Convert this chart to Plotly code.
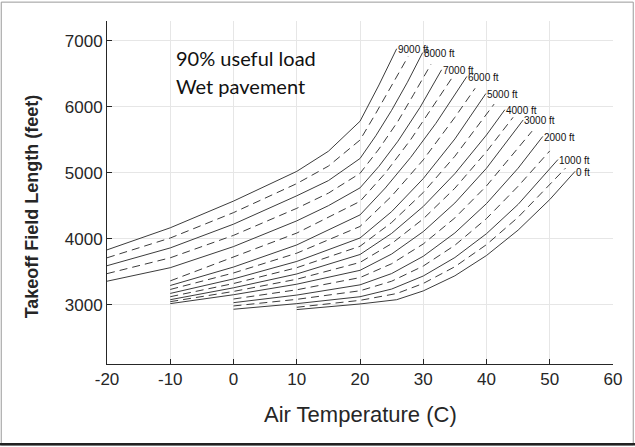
import plotly.graph_objects as go

# Takeoff field length vs. air temperature, one curve per pressure altitude.
# Solid curves every 1000 ft, dashed curves at the 500 ft steps in between.
alt_9000_t = [-20, -10, 0, 10, 15, 20, 23, 25.8]
alt_9000_ft = [3830, 4165, 4570, 5020, 5325, 5780, 6330, 6880]
alt_8500_t = [-20, -10, 0, 10, 15, 20, 22.5, 25, 27.6]
alt_8500_ft = [3710, 4010, 4395, 4835, 5100, 5495, 5900, 6330, 6760]
alt_8000_t = [-20, -10, 0, 10, 15, 20, 22.5, 25, 27.5, 29.9]
alt_8000_ft = [3590, 3860, 4220, 4650, 4880, 5215, 5560, 5946, 6372, 6820]
alt_7500_t = [-20, -10, 0, 10, 15, 20, 23, 26, 28.5, 31.2]
alt_7500_ft = [3470, 3710, 4050, 4460, 4690, 4990, 5360, 5780, 6190, 6640]
alt_7000_t = [-20, -10, 0, 10, 15, 20, 23, 26, 29.5, 32.9]
alt_7000_ft = [3355, 3560, 3880, 4270, 4500, 4770, 5097, 5478, 5991, 6560]
alt_6500_t = [-10, 0, 10, 20, 24, 28, 32, 34.7]
alt_6500_ft = [3360, 3725, 4085, 4565, 4994, 5500, 6075, 6460]
alt_6000_t = [-10, 0, 10, 20, 24, 28, 32, 36.9]
alt_6000_ft = [3290, 3570, 3905, 4360, 4768, 5231, 5749, 6460]
alt_5500_t = [-10, 0, 10, 20, 25, 30, 35, 38.2]
alt_5500_ft = [3230, 3480, 3780, 4185, 4645, 5195, 5840, 6280]
alt_5000_t = [-10, 0, 10, 20, 25, 30, 35, 39.9]
alt_5000_ft = [3170, 3390, 3655, 4010, 4410, 4911, 5512, 6200]
alt_4500_t = [-10, 0, 10, 20, 25, 30, 35, 40, 41.2]
alt_4500_ft = [3120, 3320, 3560, 3885, 4245, 4700, 5250, 5890, 6040]
alt_4000_t = [-10, 0, 10, 20, 25, 30, 35, 40, 42.9]
alt_4000_ft = [3075, 3255, 3465, 3760, 4080, 4488, 4986, 5572, 5955]
alt_3500_t = [-10, 0, 10, 20, 25, 30, 35, 40, 44.2]
alt_3500_ft = [3045, 3200, 3385, 3640, 3925, 4300, 4765, 5320, 5840]
alt_3000_t = [-10, 0, 10, 20, 25, 30, 35, 40, 45.8]
alt_3000_ft = [3015, 3150, 3310, 3520, 3767, 4107, 4541, 5068, 5800]
alt_2500_t = [0, 10, 20, 25, 30, 35, 40, 45, 47.2]
alt_2500_ft = [3085, 3225, 3410, 3620, 3920, 4315, 4800, 5375, 5630]
alt_2000_t = [0, 10, 20, 25, 30, 35, 40, 45, 48.9]
alt_2000_ft = [3030, 3145, 3300, 3471, 3733, 4087, 4532, 5069, 5550]
alt_1500_t = [0, 10, 20, 25, 30, 35, 40, 45, 50.0]
alt_1500_ft = [2980, 3080, 3210, 3355, 3585, 3900, 4305, 4795, 5330]
alt_1000_t = [0, 10, 20, 25, 30, 35, 40, 45, 51.3]
alt_1000_ft = [2930, 3015, 3120, 3236, 3434, 3714, 4076, 4520, 5200]
alt_500_t = [10, 20, 25.8, 30, 35, 40, 45, 50, 52.5]
alt_500_ft = [2960, 3065, 3168, 3321, 3575, 3910, 4325, 4827, 5070]
alt_0_t = [10, 20, 25.8, 30, 35, 40, 45, 50, 54]
alt_0_ft = [2925, 3010, 3075, 3208, 3437, 3745, 4130, 4593, 5020]

altitudes = [9000, 8500, 8000, 7500, 7000, 6500, 6000, 5500, 5000, 4500,
             4000, 3500, 3000, 2500, 2000, 1500, 1000, 500, 0]
curves = {
    9000: (alt_9000_t, alt_9000_ft), 8500: (alt_8500_t, alt_8500_ft),
    8000: (alt_8000_t, alt_8000_ft), 7500: (alt_7500_t, alt_7500_ft),
    7000: (alt_7000_t, alt_7000_ft), 6500: (alt_6500_t, alt_6500_ft),
    6000: (alt_6000_t, alt_6000_ft), 5500: (alt_5500_t, alt_5500_ft),
    5000: (alt_5000_t, alt_5000_ft), 4500: (alt_4500_t, alt_4500_ft),
    4000: (alt_4000_t, alt_4000_ft), 3500: (alt_3500_t, alt_3500_ft),
    3000: (alt_3000_t, alt_3000_ft), 2500: (alt_2500_t, alt_2500_ft),
    2000: (alt_2000_t, alt_2000_ft), 1500: (alt_1500_t, alt_1500_ft),
    1000: (alt_1000_t, alt_1000_ft), 500: (alt_500_t, alt_500_ft),
    0: (alt_0_t, alt_0_ft),
}

x_ticks = [-20, -10, 0, 10, 20, 30, 40, 50, 60]
y_ticks = [3000, 4000, 5000, 6000, 7000]
note_lines = ["90% useful load", "Wet pavement"]
x_title = "Air Temperature (C)"
y_title = "Takeoff Field Length (feet)"

line_color = "#3c3c3c"
axis_color = "#262626"
sans = "Arial"
fig = go.Figure()

for alt in altitudes:
    t, ft = curves[alt]
    solid = alt % 1000 == 0
    fig.add_trace(go.Scatter(
        x=t, y=ft, mode="lines", showlegend=False, hoverinfo="skip",
        line=dict(color=line_color, width=1,
                  dash="solid" if solid else "8px,5px"),
    ))
    if solid:
        fig.add_annotation(
            x=t[-1], y=ft[-1], text=f"{alt} ft", showarrow=False,
            xanchor="left", yanchor="middle", xshift=-1, yshift=-1,
            font=dict(family=sans, size=10, color="#111111"),
        )

fig.add_annotation(
    x=-9.4, y=6745, text=note_lines[0], showarrow=False, xanchor="left",
    yanchor="middle", font=dict(family="Lato", size=20, color="#111111"))
fig.add_annotation(
    x=-9.4, y=6320, text=note_lines[1], showarrow=False, xanchor="left",
    yanchor="middle", font=dict(family="Lato", size=20, color="#111111"))

# Axis titles
fig.add_annotation(
    xref="paper", yref="paper", x=0.5, y=-0.146, text=x_title,
    showarrow=False, xanchor="center", yanchor="middle",
    font=dict(family=sans, size=22, color=axis_color))
fig.add_annotation(
    xref="paper", yref="paper", x=-0.148, y=0.46, text=f"<b>{y_title}</b>",
    showarrow=False, xanchor="center", yanchor="middle", textangle=-90,
    font=dict(family=sans, size=18, color=axis_color))

# Figure frame
fig.add_shape(type="rect", xref="paper", yref="paper",
              x0=-0.209, x1=1.04, y0=-0.236, y1=1.055,
              line=dict(color="#9a9a9a", width=1))
fig.add_shape(type="line", xref="paper", yref="paper",
              x0=-0.212, x1=1.045, y0=-0.234, y1=-0.234,
              line=dict(color="#222222", width=2.5))

fig.update_layout(
    width=635, height=447,
    margin=dict(l=107, r=22, t=21, b=83),
    paper_bgcolor="white", plot_bgcolor="white",
    font=dict(family=sans, color=axis_color),
)
fig.update_xaxes(
    range=[-20, 60], tickvals=x_ticks, ticktext=[str(v) for v in x_ticks],
    showgrid=True, gridcolor="#e6e6e6", gridwidth=1,
    showline=True, linecolor=axis_color, linewidth=1,
    ticks="inside", ticklen=5, tickcolor=axis_color,
    tickfont=dict(family=sans, size=17, color=axis_color), zeroline=False,
)
fig.update_yaxes(
    range=[2100, 7300], tickvals=y_ticks, ticktext=[str(v) for v in y_ticks],
    showgrid=True, gridcolor="#e6e6e6", gridwidth=1,
    showline=True, linecolor=axis_color, linewidth=1,
    ticks="inside", ticklen=5, tickcolor=axis_color,
    tickfont=dict(family=sans, size=17, color=axis_color), zeroline=False,
)

fig.write_html("out.html")
